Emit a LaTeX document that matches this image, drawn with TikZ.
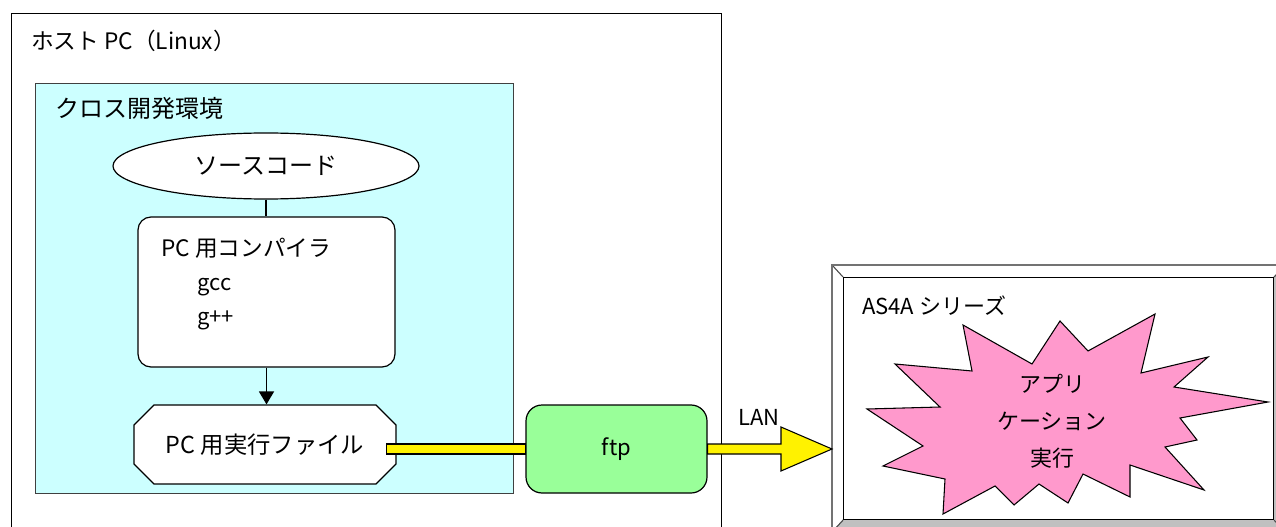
\documentclass[tikz,border=0pt]{standalone}
\usepackage{fontspec}
\setmainfont{Noto Sans CJK JP}
\usetikzlibrary{shapes.geometric,shapes.misc,calc,arrows.meta}
\definecolor{cyanfill}{RGB}{204,255,255}
\definecolor{greenfill}{RGB}{153,255,153}
\definecolor{pinkfill}{RGB}{255,153,204}
\definecolor{bevelgray}{RGB}{192,192,192}
\begin{document}
\begin{tikzpicture}[x=0.75pt,y=-0.75pt,
  font=\fontsize{16.5}{20}\selectfont,
  frame/.style={draw=black, line width=0.9pt, inner sep=0pt, anchor=north west},
  box/.style={draw=black, line width=0.9pt, fill=white, inner sep=0pt},
  txt/.style={inner sep=0pt, text=black},
  big/.style={font=\fontsize{18}{21}\selectfont},
  mid/.style={font=\fontsize{17.5}{21}\selectfont},
  yarrow/.style={fill=yellow, draw=black, line width=0.8pt, line join=miter},
  conn/.style={draw=black, line width=1.2pt}]
\useasboundingbox (0,0) rectangle (1276,527);
\clip (0,0) rectangle (1276,527);

% host PC frame
\node[frame, fill=white, minimum width=532.5pt, minimum height=395.25pt] (host) at (11,13) {};
\node[txt, anchor=west, font=\fontsize{17}{20}\selectfont] (hosttext) at (31,41) {ホスト PC（Linux）};

% cross development environment
\node[frame, draw=black!75, fill=cyanfill, minimum width=358.5pt, minimum height=307.5pt] (cross) at (35,83) {};
\node[txt, anchor=west, big] (crosstext) at (55,108) {クロス開発環境};

% source code
\node[box, ellipse, minimum width=229.5pt, minimum height=49.5pt, big] (src) at (266,166) {ソースコード};

% compiler
\node[box, rounded corners=9.75pt, minimum width=192.75pt, minimum height=112.5pt] (comp) at (266.5,292) {};
\node[txt, anchor=west, font=\fontsize{17}{20}\selectfont] (comptitle) at (161,248) {PC 用コンパイラ};
\node[txt, anchor=west] (gcc) at (197,287) {gcc};
\node[txt, anchor=west] (gpp) at (197,320) {g++};

% executable
\node[box, chamfered rectangle, chamfered rectangle xsep=7.5pt, chamfered rectangle ysep=7.5pt,
      minimum width=196.5pt, minimum height=59.25pt, mid] (exe) at (265,444.5) {PC 用実行ファイル};

% ftp
\node[box, fill=greenfill, rounded corners=12pt, minimum width=135.75pt, minimum height=66pt] (ftp) at (616.5,449) {ftp};

% AS4A bevel frame
\node[frame, draw=black!55, fill=white, line width=0.8pt, minimum width=339pt, minimum height=199.5pt] (as4a) at (832,265) {};
\fill[bevelgray] (as4a.south west) -- (843,519) -- (1273,519) -- (as4a.south east) -- cycle;
\fill[bevelgray] (as4a.north east) -- (1273,277) -- (1273,519) -- (as4a.south east) -- cycle;
\node[frame, fill=white, minimum width=322.5pt, minimum height=181.5pt] (as4ain) at (843,277) {};
\draw[black!70, line width=0.8pt] (as4a.north west) -- (as4ain.north west)
  (as4a.south west) -- (as4ain.south west)
  (as4a.north east) -- (as4ain.north east)
  (as4a.south east) -- (as4ain.south east);
\draw[black!55, line width=0.8pt] (as4a.north west) rectangle (as4a.south east);
\node[txt, anchor=west] (as4atext) at (862,306) {AS4A シリーズ};

% starburst
\draw[fill=pinkfill, draw=black, line width=0.8pt, line join=miter]
  (963,325) -- (972,371) -- (895,364) -- (940,407) -- (867,409) -- (923,446)
  -- (883,466) -- (945,479) -- (943,514) -- (995,486) -- (1014,505) -- (1039,484)
  -- (1068,503) -- (1083,474) -- (1130,497) -- (1130,465) -- (1204,490) -- (1165,447)
  -- (1197,440) -- (1180,418) -- (1268,402) -- (1174,387) -- (1208,357) -- (1141,373)
  -- (1155,314) -- (1088,351) -- (1060,321) -- (1032,364) -- cycle;
\node[txt, align=center, font=\fontsize{16.5}{27.75}\selectfont] (app) at (1052,421) {アプリ\\ケーション\\実行};

% connectors
\draw[conn] (src.south) -- (src.south |- comp.north);
\draw[conn, -{Triangle[width=11.25pt,length=9.75pt]}] (comp.south) -- (comp.south |- exe.north);

\draw[yarrow] ($(exe.east |- ftp.west)+(-10,-5)$) rectangle ($(ftp.west)+(0,5)$);
\coordinate (lanend) at (as4a.west |- ftp.east);
\draw[yarrow] ($(ftp.east)+(0,-5)$) -- ($(lanend)+(-51,-5)$) -- ($(lanend)+(-51,-22)$)
  -- (lanend) -- ($(lanend)+(-51,22)$) -- ($(lanend)+(-51,5)$) -- ($(ftp.east)+(0,5)$) -- cycle;
\node[txt] (lan) at (759,417) {LAN};
\end{tikzpicture}
\end{document}
